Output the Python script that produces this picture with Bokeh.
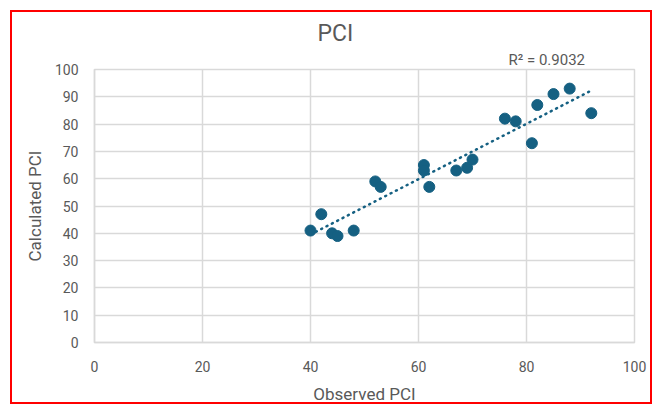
import numpy as np
from bokeh.plotting import figure
from bokeh.models import Range1d, FixedTicker, Title, ColumnDataSource
from bokeh.embed import file_html
from bokeh.resources import INLINE

# Data
observed = [40, 42, 44, 45, 48, 52, 53, 61, 61, 62, 67, 69, 70, 76, 78, 81, 82, 85, 88, 92]
calculated = [41, 47, 40, 39, 41, 59, 57, 65, 63, 57, 63, 64, 67, 82, 81, 73, 87, 91, 93, 84]
x_ticks = [0, 20, 40, 60, 80, 100]
y_ticks = [0, 10, 20, 30, 40, 50, 60, 70, 80, 90, 100]
title_text = "PCI"
x_title = "Observed PCI"
y_title = "Calculated PCI"
r2_text = "R\u00b2 = 0.9032"

BLUE = "#156082"
GRAY_TEXT = "#595959"
GRID = "#d9d9d9"
FONT = "Roboto"

p = figure(width=642, height=394, output_backend="svg", toolbar_location=None,
           x_range=Range1d(0, 100), y_range=Range1d(0, 100),
           min_border_left=82, min_border_right=20, min_border_top=57, min_border_bottom=64)
p.styles = {"border": "2px solid #ff0000", "margin-left": "10px", "margin-top": "10px"}
p.title.text = ""

p.outline_line_color = GRID
p.outline_line_width = 1.5
p.background_fill_color = "white"
p.border_fill_color = "white"

for ax, ticks in ((p.xaxis[0], x_ticks), (p.yaxis[0], y_ticks)):
    ax.ticker = FixedTicker(ticks=ticks)
    ax.axis_line_color = GRID
    ax.axis_line_width = 1.5
    ax.major_tick_line_color = None
    ax.minor_tick_line_color = None
    ax.major_label_text_color = GRAY_TEXT
    ax.major_label_text_font = FONT
    ax.major_label_text_font_size = "14px"
    ax.axis_label_text_font = FONT
    ax.axis_label_text_font_size = "17px"
    ax.axis_label_text_font_style = "normal"
    ax.axis_label_text_color = GRAY_TEXT
p.xaxis[0].axis_label = x_title
p.yaxis[0].axis_label = y_title
p.xaxis[0].major_label_standoff = 12
p.yaxis[0].major_label_standoff = 10
p.xaxis[0].axis_label_standoff = 9
p.yaxis[0].axis_label_standoff = 7

p.xgrid[0].ticker = FixedTicker(ticks=x_ticks)
p.ygrid[0].ticker = FixedTicker(ticks=y_ticks)
p.grid.grid_line_color = GRID
p.grid.grid_line_width = 1.5

# trendline (linear fit of the data)
xs = np.array(observed, dtype=float)
ys = np.array(calculated, dtype=float)
m, b = np.polyfit(xs, ys, 1)
tx = [xs.min(), xs.max()]
ty = [m * tx[0] + b, m * tx[1] + b]
p.line(tx, ty, line_color=BLUE, line_width=2.5, line_dash="1 5", line_cap="round")

src = ColumnDataSource(dict(x=observed, y=calculated))
p.scatter("x", "y", source=src, size=11, fill_color=BLUE, line_color=BLUE, line_width=1)

# titles above the plot area (first added sits closest to the frame)
p.add_layout(Title(text=r2_text, align="left", offset=414, standoff=2,
                   text_font=FONT, text_font_size="15px", text_font_style="normal",
                   text_color=GRAY_TEXT), "above")
p.add_layout(Title(text=title_text, align="left", offset=223, standoff=2,
                   text_font=FONT, text_font_size="23px", text_font_style="normal",
                   text_color=GRAY_TEXT), "above")

open("out.html", "w").write(file_html(p, INLINE))
